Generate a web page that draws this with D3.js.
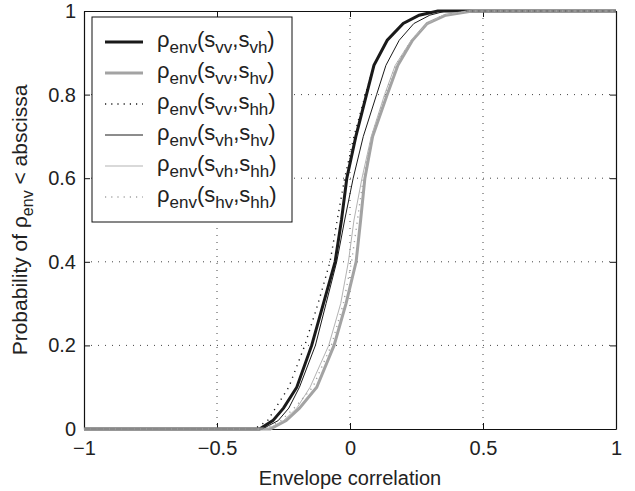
<!DOCTYPE html>
<html>
<head>
<meta charset="utf-8">
<script src="https://cdn.jsdelivr.net/npm/d3@7"></script>
<style>
  body { margin: 0; background: #fff; }
  text { font-family: "Liberation Sans", Arial, sans-serif; fill: #222; }
</style>
</head>
<body>
<script>
// cumulative probability levels shared by all curves
const probs = [0, 0.02, 0.05, 0.1, 0.2, 0.3, 0.4, 0.5, 0.6, 0.7, 0.8, 0.87, 0.93, 0.97, 0.99, 1];

// envelope correlation value reached at each probability level
const vvVh = [-0.34, -0.29, -0.25, -0.2, -0.144, -0.1, -0.056, -0.032, -0.012, 0.022, 0.062, 0.09, 0.14, 0.2, 0.26, 0.33];
const vvHv = [-0.30, -0.24, -0.19, -0.125, -0.06, -0.015, 0.023, 0.04, 0.056, 0.085, 0.14, 0.18, 0.235, 0.29, 0.36, 0.46];
const vvHh = [-0.36, -0.31, -0.28, -0.23, -0.17, -0.12, -0.075, -0.048, -0.02, 0.015, 0.058, 0.09, 0.14, 0.2, 0.26, 0.34];
const vhHv = [-0.33, -0.27, -0.23, -0.19, -0.13, -0.09, -0.05, -0.02, 0.012, 0.05, 0.1, 0.135, 0.185, 0.24, 0.3, 0.36];
const vhHh = [-0.31, -0.25, -0.2, -0.15, -0.08, -0.035, -0.006, 0.015, 0.045, 0.08, 0.13, 0.17, 0.23, 0.29, 0.35, 0.44];
const hvHh = [-0.32, -0.26, -0.21, -0.14, -0.07, -0.025, 0.006, 0.028, 0.05, 0.082, 0.133, 0.172, 0.232, 0.29, 0.35, 0.45];

const xTicks = [-1, -0.5, 0, 0.5, 1];
const yTicks = [0, 0.2, 0.4, 0.6, 0.8, 1];

const series = [
    { a: "vv", b: "vh", vals: vvVh, color: "#1a1a1a", width: 3, dash: null },
    { a: "vv", b: "hv", vals: vvHv, color: "#a3a3a3", width: 3, dash: null },
    { a: "vv", b: "hh", vals: vvHh, color: "#1a1a1a", width: 1.4, dash: "1.2,5" },
    { a: "vh", b: "hv", vals: vhHv, color: "#1a1a1a", width: 1, dash: null },
    { a: "vh", b: "hh", vals: vhHh, color: "#b3b3b3", width: 1, dash: null },
    { a: "hv", b: "hh", vals: hvHh, color: "#a3a3a3", width: 1.4, dash: "1.2,5" }
];

let margin = { top: 11, right: 19, bottom: 62, left: 84 };
let width = 635 - margin.left - margin.right,
    height = 491 - margin.top - margin.bottom;

let svg = d3.select("body")
    .append("svg")
    .attr("width", 635)
    .attr("height", 491)
    .append("g")
    .attr("transform", "translate(" + margin.left + "," + margin.top + ")");

let x = d3.scaleLinear().domain([-1, 1]).range([0, width]);
let y = d3.scaleLinear().domain([0, 1]).range([height, 0]);

// dotted grid
svg.append("g")
    .selectAll("line")
    .data(xTicks.slice(1, -1))
    .enter()
    .append("line")
    .attr("x1", d => x(d)).attr("x2", d => x(d))
    .attr("y1", 0).attr("y2", height)
    .attr("stroke", "#444").attr("stroke-width", 1).attr("stroke-dasharray", "1,6");
svg.append("g")
    .selectAll("line")
    .data(yTicks.slice(1, -1))
    .enter()
    .append("line")
    .attr("y1", d => y(d)).attr("y2", d => y(d))
    .attr("x1", 0).attr("x2", width)
    .attr("stroke", "#444").attr("stroke-width", 1).attr("stroke-dasharray", "1,6");

// axes, ticks pointing inward like matlab
svg.append("g")
    .attr("transform", "translate(0," + height + ")")
    .call(d3.axisBottom(x).tickValues(xTicks).tickSizeInner(-6).tickSizeOuter(0).tickPadding(12)
        .tickFormat(d => d3.format("")(d).replace("-", "\u2212")));
svg.append("g")
    .call(d3.axisLeft(y).tickValues(yTicks).tickSizeInner(-6).tickSizeOuter(0).tickPadding(8)
        .tickFormat(d3.format("")));
svg.append("g")
    .call(d3.axisTop(x).tickValues(xTicks).tickSizeInner(-6).tickSizeOuter(0).tickFormat(""));
svg.append("g")
    .attr("transform", "translate(" + width + ",0)")
    .call(d3.axisRight(y).tickValues(yTicks).tickSizeInner(-6).tickSizeOuter(0).tickFormat(""));
svg.selectAll(".domain").attr("stroke", "#111").attr("stroke-width", 1.2);
svg.selectAll(".tick line").attr("stroke", "#111");
svg.selectAll(".tick text").style("font-size", "20px").attr("fill", "#222");

// cdf curves, flat at 0 and 1 out to the axis limits
let line = d3.line()
    .x(d => x(d[0]))
    .y(d => y(d[1]));

let curves = svg.append("g");
series.forEach(s => {
    let pts = [[x.domain()[0], 0]];
    s.vals.forEach((v, i) => pts.push([v, probs[i]]));
    pts.push([x.domain()[1], 1]);
    curves.append("path")
        .datum(pts)
        .attr("d", line)
        .attr("fill", "none")
        .attr("stroke", s.color)
        .attr("stroke-width", s.width)
        .attr("stroke-dasharray", s.dash);
});

// axis labels
svg.append("text")
    .attr("x", width / 2)
    .attr("y", height + 56)
    .attr("text-anchor", "middle")
    .style("font-size", "20px")
    .text("Envelope correlation");

let yl = svg.append("text")
    .attr("transform", "translate(" + (-57) + "," + (height / 2) + ") rotate(-90)")
    .attr("text-anchor", "middle")
    .style("font-size", "21px");
yl.append("tspan").text("Probability of \u03C1");
yl.append("tspan").attr("dy", 6).style("font-size", "16px").text("env");
yl.append("tspan").attr("dy", -6).text(" < abscissa");

// legend
let legend = svg.append("g").attr("transform", "translate(8,6)");
legend.append("rect")
    .attr("width", 200).attr("height", 205)
    .attr("fill", "#fff").attr("stroke", "#111").attr("stroke-width", 1);

series.forEach((s, i) => {
    let row = legend.append("g").attr("transform", "translate(0," + (25 + i * 31) + ")");
    row.append("line")
        .attr("x1", 13).attr("x2", 51)
        .attr("stroke", s.color)
        .attr("stroke-width", s.width)
        .attr("stroke-dasharray", s.dash);
    let t = row.append("text").attr("x", 65).attr("y", 5).style("font-size", "22px");
    t.append("tspan").text("\u03C1");
    t.append("tspan").attr("dy", 6).style("font-size", "17px").text("env");
    t.append("tspan").attr("dy", -6).text("(s");
    t.append("tspan").attr("dy", 6).style("font-size", "17px").text(s.a);
    t.append("tspan").attr("dy", -6).text(",s");
    t.append("tspan").attr("dy", 6).style("font-size", "17px").text(s.b);
    t.append("tspan").attr("dy", -6).text(")");
});
</script>
</body>
</html>
